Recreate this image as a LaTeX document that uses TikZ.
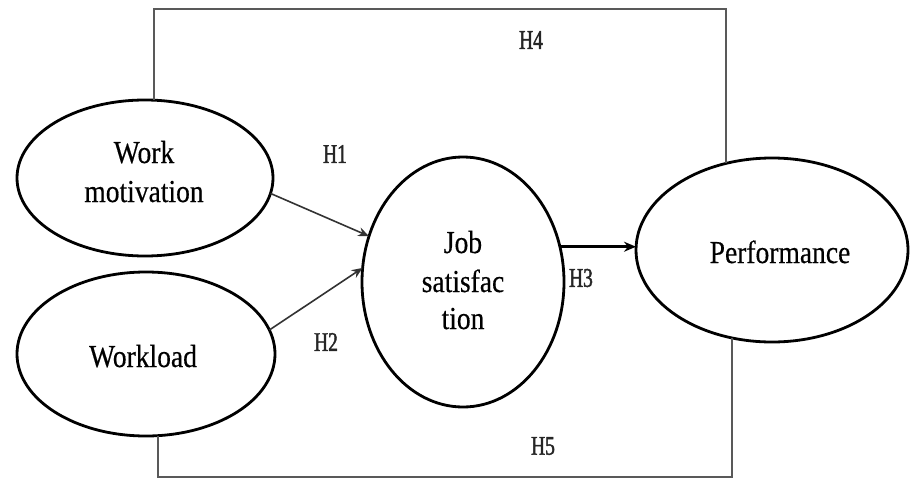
\documentclass[tikz,border=0pt]{standalone}
\usepackage{fontspec}
\setmainfont{Liberation Serif}
\newfontfamily\lblfont[FakeStretch=0.86, FakeBold=0.4]{Liberation Serif}
\newfontfamily\hypfont[FakeStretch=0.72, FakeBold=1.6]{Liberation Serif}
\usetikzlibrary{shapes.geometric,arrows.meta}

\tikzset{
  construct/.style={ellipse, draw=black, line width=2.8pt, inner sep=0pt, outer sep=0pt},
  lbl/.style={font=\lblfont\fontsize{32}{38}\selectfont, inner sep=0pt, anchor=base},
  hyp/.style={font=\hypfont\fontsize{27}{30}\selectfont, text=black!85, inner sep=0pt},
  path/.style={draw=black!80, line width=1.6pt, -{Stealth[length=11pt,width=9pt]}},
  mainpath/.style={draw=black, line width=2.6pt, -{Stealth[length=12pt,width=10pt]}},
  frame/.style={draw=black!65, line width=2.4pt, line join=miter}
}

\begin{document}
\begin{tikzpicture}[x=1pt, y=-1pt]
  \useasboundingbox (0,0) rectangle (915,479);

  % constructs
  \node[construct, minimum width=256pt, minimum height=156pt] (wm) at (145,178) {};
  \node[construct, minimum width=258pt, minimum height=164pt] (wl) at (146,354) {};
  \node[construct, minimum width=202pt, minimum height=250pt] (js) at (463,282) {};
  \node[construct, minimum width=272pt, minimum height=184pt] (perf) at (772,250) {};

  % construct labels
  \node[lbl] (wmA) at (144,163) {Work};
  \node[lbl] (wmB) at (144,202) {motivation};
  \node[lbl] (wlA) at (143,367) {Workload};
  \node[lbl] (jsA) at (463,253) {Job};
  \node[lbl] (jsB) at (463,292) {satisfac};
  \node[lbl] (jsC) at (463,329) {tion};
  \node[lbl] (perfA) at (780,263) {Performance};

  % outer frame for the direct paths H4 and H5
  \coordinate (tl) at (154,9);
  \coordinate (tr) at (726,9);
  \coordinate (bl) at (158,477);
  \coordinate (br) at (732,477);
  \draw[frame] (wm.north -| tl) -- (tl) -- (tr) -- (tr |- perf.118);
  \draw[frame] (wl.south -| bl) -- (bl) -- (br) -- (br |- perf.-114);

  % hypothesised paths
  \draw[path] (wm.-7) -- (js.154);
  \draw[path] (wl.11) -- (js.172);
  \draw[mainpath] (js.20) -- (js.20 -| perf.west);

  % path labels
  \node[hyp] (h1) at (335,154) {H1};
  \node[hyp] (h2) at (326,342) {H2};
  \node[hyp] (h3) at (581,278) {H3};
  \node[hyp] (h4) at (531,40) {H4};
  \node[hyp] (h5) at (543,446) {H5};
\end{tikzpicture}
\end{document}
